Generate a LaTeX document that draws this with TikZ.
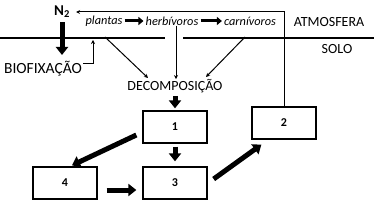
\documentclass[tikz,border=0pt]{standalone}
\usepackage{fontspec}
\setmainfont{Carlito}
\usepackage{tikz}
\usetikzlibrary{arrows.meta, calc}
\definecolor{ink}{HTML}{000000}

\tikzset{
  lbl/.style={font=\fontsize{14}{16}\selectfont, inner sep=0pt},
  taxon/.style={font=\fontsize{12.3}{14}\selectfont\itshape, inner sep=0pt},
  box/.style={draw=ink, line width=1.3pt, minimum width=64pt, minimum height=32pt,
    inner sep=0pt, font=\fontsize{12}{14}\selectfont\bfseries},
  flow/.style={draw=ink, line width=1pt, -{Stealth[length=4pt,width=4pt]}},
  fat/.style={draw=ink, line width=5pt, -{Triangle[length=8pt,width=12pt]}},
  chain/.style={draw=ink, line width=3pt, -{Triangle[length=5pt,width=8pt]}},
}

\begin{document}
\begin{tikzpicture}[x=1pt, y=-1pt]
  \useasboundingbox (0,0) rectangle (374,208);
  % soil / atmosphere border, broken where the herbivore line crosses
  \draw[ink, line width=1.2pt] (0,38) -- (165,38);
  \draw[ink, line width=1.2pt] (183,38) -- (374,38);
  \node[lbl] (atm) at (329,22) {ATMOSFERA};
  \node[lbl] (solo) at (337,49) {SOLO};

  % labels
  \node[lbl, font=\fontsize{15}{17}\selectfont\bfseries] (n2) at (62,12) {N$_\mathbf{2}$};
  \node[lbl, font=\fontsize{15.5}{17}\selectfont] (bio) at (43,69) {BIOFIXAÇÃO};
  \node[lbl] (dec) at (175,86) {DECOMPOSIÇÃO};
  \node[taxon] (pla) at (104,21) {plantas};
  \node[taxon] (her) at (172,21) {herbívoros};
  \node[taxon] (car) at (250,21) {carnívoros};

  % boxes
  \node[box] (b1) at (175,127) {1};
  \node[box] (b2) at (284,123) {2};
  \node[box] (b3) at (175,183) {3};
  \node[box] (b4) at (65,183) {4};

  % food chain
  \draw[chain] (pla.east) ++(2,0) -- ($(her.west)+(-2,0)$);
  \draw[chain] (her.east) ++(2,0) -- ($(car.west)+(-2,0)$);

  % fixation
  \draw[fat] ($(n2.south)+(0,4)$) -- (62,55);
  \coordinate (fix) at (93,40);
  \draw[flow] (bio.east) ++(1,-5) -| (fix);
  \draw[flow] (b2.north) |- ($(n2.east)+(6,0)$);

  % to decomposition
  \draw[flow] (105,37) -- (148,78);
  \draw[flow] (her.south) ++(4,0) -- ($(dec.north)+(1,0)$);
  \draw[flow] (245,37) -- (206,77);

  % nitrogen cycle in the soil
  \draw[fat] ($(dec.south)+(0,3)$) -- ($(b1.north)+(0,-2)$);
  \draw[fat] ($(b1.south)+(0,3)$) -- ($(b3.north)+(0,-5)$);
  \draw[fat] ($(b1.west)+(-6,8)$) -- ($(b4.north)+(7,-1)$);
  \draw[fat] ($(b4.east)+(9,7)$) -- ($(b3.west)+(-6,7)$);
  \draw[fat] ($(b3.east)+(6,-4)$) -- ($(b2.south west)+(10,5)$);
\end{tikzpicture}
\end{document}
